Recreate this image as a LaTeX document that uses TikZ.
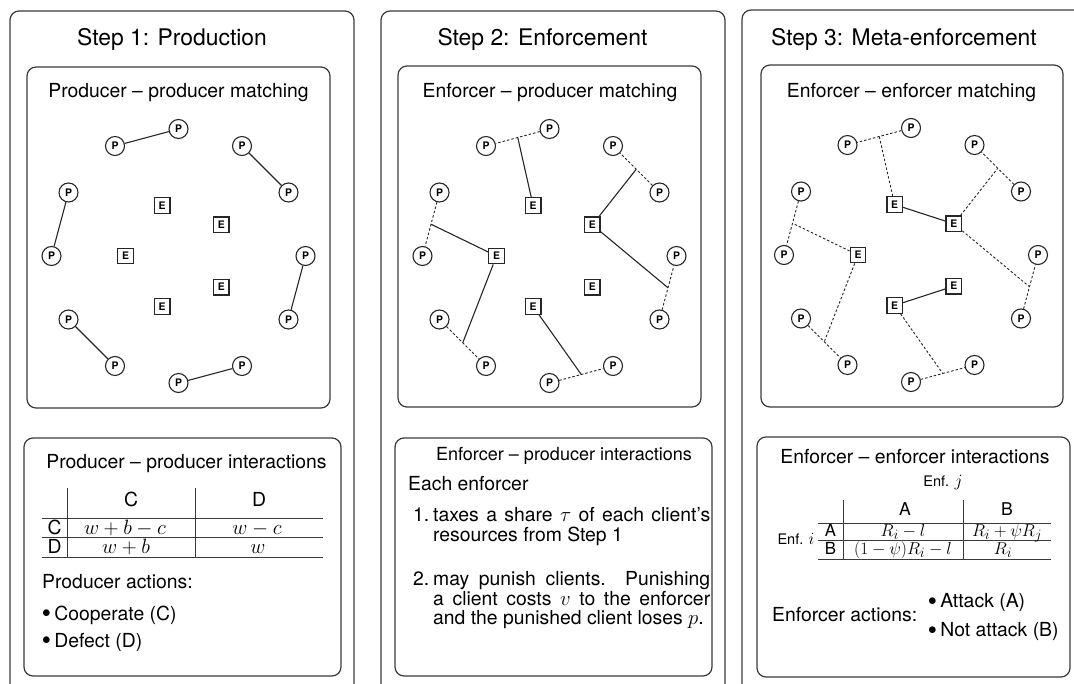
\documentclass[tikz,border=0pt]{standalone}
\usepackage{fontspec}
\setmainfont{TeX Gyre Heros}[Scale=0.88]
\definecolor{framegray}{HTML}{3A3A3A}
\definecolor{linegray}{HTML}{262626}

\newcommand{\stepsize}{\fontsize{26}{30}\selectfont}
\newcommand{\boxsize}{\fontsize{22}{26}\selectfont}
\newcommand{\gamesize}{\fontsize{19}{22}\selectfont}
\newcommand{\enfsize}{\fontsize{16.5}{19}\selectfont}
\newcommand{\tagsize}{\fontsize{11.8}{12}\selectfont\bfseries}
\newcommand{\dotitem}{\raisebox{2.5pt}{\fontsize{16}{16}\selectfont$\bullet$}\hspace{3.5pt}}

\tikzset{
  prod/.style={circle, draw=linegray, line width=1.1pt, minimum size=19pt, inner sep=0pt, font=\tagsize},
  enf/.style={rectangle, draw=linegray, line width=1.3pt, minimum size=15.5pt, inner sep=0pt, font=\tagsize},
  frame/.style={draw=framegray, line width=1.2pt, rounded corners=9pt},
  tie/.style={draw=linegray, line width=1.1pt},
  past/.style={draw=linegray, line width=0.9pt, dash pattern=on 2.5pt off 2pt},
  rule/.style={draw=framegray, line width=0.9pt},
  txt/.style={inner sep=0pt, font=\boxsize, anchor=base},
  txtl/.style={inner sep=0pt, font=\boxsize, anchor=base west},
}

\begin{document}
\begin{tikzpicture}[x=1pt, y=-1pt]
  \useasboundingbox (0,0) rectangle (1074,683);
  \clip (0,0) rectangle (1074,683);

  % outer frames, open at the bottom
  \draw[frame] (10,11) rectangle (354,720);
  \draw[frame] (381,11) rectangle (725,720);
  \draw[frame] (742,10) rectangle (1086,720);
  \node[txt, font=\stepsize] (s1) at (172,45) {Step 1: Production};
  \node[txt, font=\stepsize] (s2) at (542.5,45) {Step 2: Enforcement};
  \node[txt, font=\stepsize] (s3) at (904,45) {Step 3: Meta-enforcement};

  % matching boxes
  \draw[frame] (27,67) rectangle (330,408);
  \draw[frame] (398,66) rectangle (701,407);
  \draw[frame] (761,65) rectangle (1063,407);
  \node[txt] (m1) at (178.5,97) {Producer -- producer matching};
  \node[txt] (m2) at (550,97) {Enforcer -- producer matching};
  \node[txt] (m3) at (911.5,97) {Enforcer -- enforcer matching};

  \begin{scope}[shift={(178.5,256)}]
    \foreach \a in {0,30,...,330} \node[prod] (P1-\a) at (\a:127pt) {P};
    \foreach \a in {36,108,180,252,324} \node[enf] (E1-\a) at (\a:53pt) {E};
  \end{scope}
  \begin{scope}[shift={(549.5,256)}]
    \foreach \a in {0,30,...,330} \node[prod] (P2-\a) at (\a:127pt) {P};
    \foreach \a in {36,108,180,252,324} \node[enf] (E2-\a) at (\a:53pt) {E};
  \end{scope}
  \begin{scope}[shift={(911,255)}]
    \foreach \a in {0,30,...,330} \node[prod] (P3-\a) at (\a:127pt) {P};
    \foreach \a in {36,108,180,252,324} \node[enf] (E3-\a) at (\a:53pt) {E};
  \end{scope}

  % step 1: producer pairs
  \foreach \a/\b in {30/60, 90/120, 150/180, 210/240, 270/300, 330/0}
    \draw[tie] (P1-\a) -- (P1-\b);

  % step 2: enforcers pick up pairs
  \foreach \a/\b in {30/60, 90/120, 150/180, 210/240, 270/300, 330/0}
    \draw[past] (P2-\a) -- coordinate (M2-\a) (P2-\b);
  \foreach \e/\a in {108/90, 36/30, 36/330, 180/150, 180/210, 252/270}
    \draw[tie] (E2-\e) -- (M2-\a);

  % step 3: enforcer pairs
  \foreach \a/\b in {30/60, 90/120, 150/180, 210/240, 270/300, 330/0}
    \draw[past] (P3-\a) -- coordinate (M3-\a) (P3-\b);
  \foreach \e/\a in {108/90, 36/30, 36/330, 180/150, 180/210, 252/270}
    \draw[past] (E3-\e) -- (M3-\a);
  \draw[tie] (E3-108) -- (E3-36);
  \draw[tie] (E3-252) -- (E3-324);

  % interaction boxes
  \draw[frame] (24,438) rectangle (341,676);
  \draw[frame] (395,438) rectangle (712,676);
  \draw[frame] (757,437) rectangle (1070,677);

  % producer - producer game
  \node[txt] (i1) at (186.5,468) {Producer -- producer interactions};
  \draw[rule] (67,488) -- (67,557);
  \draw[rule] (195,488) -- (195,557);
  \foreach \y in {518,537,557} \draw[rule] (42,\y) -- (323,\y);
  \node[txt] at (131,506) {C};
  \node[txt] at (259,506) {D};
  \node[txt] at (54.5,534) {C};
  \node[txt] at (54.5,553) {D};
  \node[txt] at (125,534) {$w+b-c$};
  \node[txt] at (257,534) {$w-c$};
  \node[txt] at (126,553) {$w+b$};
  \node[txt] at (258,553) {$w$};
  \node[txtl] at (42,588) {Producer actions:};
  \node[txtl] at (42,620) {\dotitem Cooperate (C)};
  \node[txtl] at (42,647) {\dotitem Defect (D)};

  % enforcer - producer rules
  \node[txt, font=\fontsize{20.5}{24}\selectfont] (i2) at (564,460) {Enforcer -- producer interactions};
  \node[txtl] at (408,490) {Each enforcer};
  \node[txtl] at (413,521.7) {1.};
  \node[txtl] at (433,521.7) {\makebox[277pt][s]{taxes a share $\tau$ of each client's}};
  \node[txtl] at (433,541.7) {resources from Step 1};
  \node[txtl] at (413,585) {2.};
  \node[txtl] at (433,585) {\makebox[277pt][s]{may punish clients.\ \ Punishing}};
  \node[txtl] at (433,605) {\makebox[277pt][s]{a client costs $v$ to the enforcer}};
  \node[txtl] at (433,624) {and the punished client loses $p$.};

  % enforcer - enforcer game
  \node[txt] (i3) at (915,463) {Enforcer -- enforcer interactions};
  \node[txt, font=\enfsize] at (943,486.7) {Enf. $j$};
  \node[txt, font=\enfsize] at (796,544) {Enf. $i$};
  \draw[rule] (843,500) -- (843,559);
  \draw[rule] (963,500) -- (963,559);
  \foreach \y in {523,540,559} \draw[rule] (818,\y) -- (1051,\y);
  \node[txt, font=\fontsize{20}{23}\selectfont] at (905,515) {A};
  \node[txt, font=\fontsize{20}{23}\selectfont] at (1007,515) {B};
  \node[txt, font=\gamesize] at (830.5,536.5) {A};
  \node[txt, font=\gamesize] at (830.5,554) {B};
  \node[txt, font=\gamesize] at (903,536.5) {$R_i-l$};
  \node[txt, font=\gamesize] at (1007,536.5) {$R_i+\psi R_j$};
  \node[txt, font=\gamesize] at (903,554) {$(1-\psi)R_i-l$};
  \node[txt, font=\gamesize] at (1003,554) {$R_i$};
  \node[txtl] at (772,621.7) {Enforcer actions:};
  \node[txtl] at (928,607.7) {\dotitem Attack (A)};
  \node[txtl] at (928,636.7) {\dotitem Not attack (B)};
\end{tikzpicture}
\end{document}
